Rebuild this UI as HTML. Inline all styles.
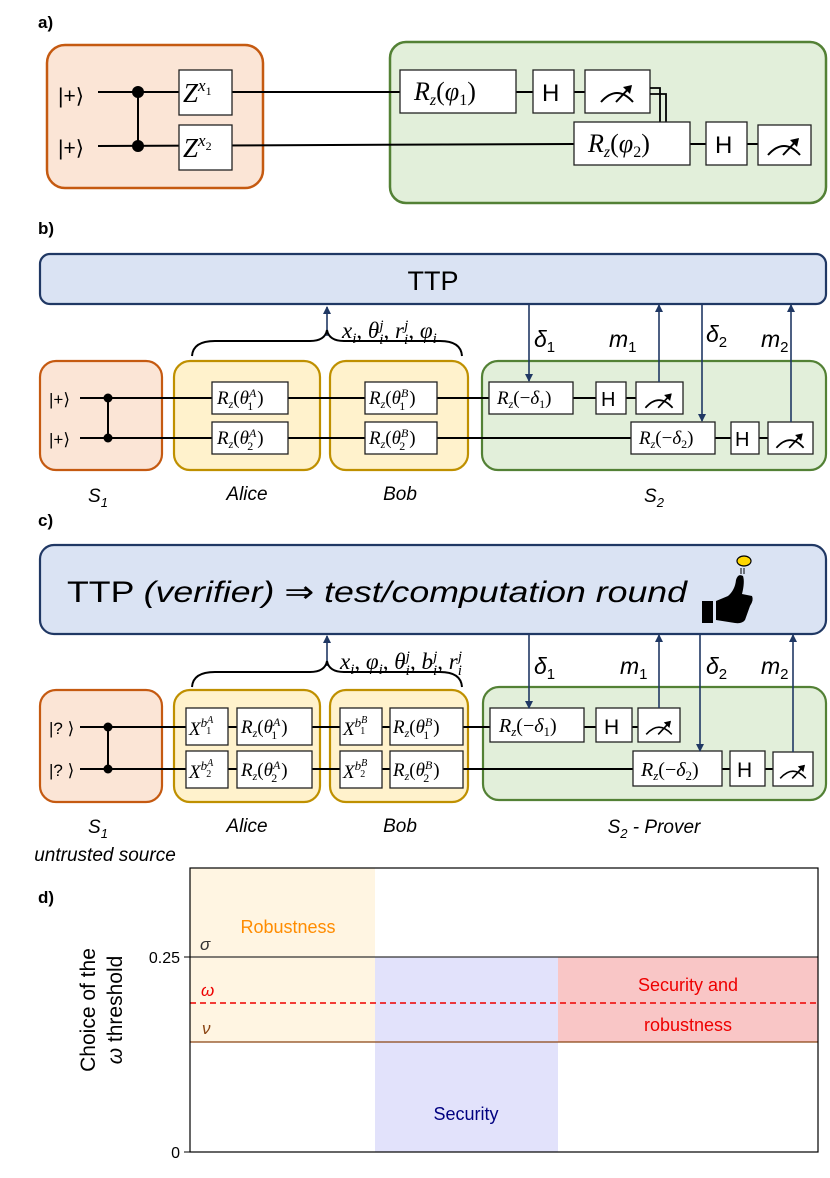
<!DOCTYPE html>
<html><head><meta charset="utf-8"><style>
html,body{margin:0;padding:0;background:#fff}
svg{display:block}
text{font-family:"Liberation Sans",sans-serif}
.m{font-family:"Liberation Serif",serif;font-style:italic}
.g{fill:#fff;stroke:#222;stroke-width:1.3}
.w{stroke:#000;stroke-width:2;fill:none}
.ar{stroke:#203864;stroke-width:1.6;fill:none}
</style></head><body>
<svg width="830" height="1178" viewBox="0 0 830 1178" xmlns="http://www.w3.org/2000/svg">
<defs>
<marker id="ah" markerUnits="userSpaceOnUse" markerWidth="9" markerHeight="9" refX="7" refY="4.5" orient="auto"><path d="M0,0.5 L8,4.5 L0,8.5 z" fill="#203864"/></marker>
<g id="meter"><path d="M-16,8 Q0,-10 16,8" fill="none" stroke="#000" stroke-width="2"/><path d="M-1,8 L14,-8" stroke="#000" stroke-width="2"/><path d="M15,-9 L6,-7 L13,0 z" fill="#000"/></g>
</defs>

<!-- ===== a ===== -->
<text x="38" y="28" font-size="17" font-weight="bold">a)</text>
<rect x="47" y="45" width="216" height="143" rx="18" fill="#fbe5d6" stroke="#c55a11" stroke-width="2.5"/>
<rect x="390" y="42" width="436" height="161" rx="16" fill="#e2efda" stroke="#538135" stroke-width="2.5"/>
<line class="w" x1="98" y1="92" x2="400" y2="92"/>
<line class="w" x1="98" y1="146" x2="574" y2="144"/>
<line class="w" x1="138" y1="92" x2="138" y2="146"/>
<circle cx="138" cy="92" r="6"/><circle cx="138" cy="146" r="6"/>
<text x="58" y="103" font-size="21">|+⟩</text>
<text x="58" y="155" font-size="21">|+⟩</text>
<rect class="g" x="179" y="70" width="53" height="45"/>
<text x="183" y="102" class="m" font-size="27">Z<tspan font-size="17" dy="-11">x</tspan><tspan font-size="12" dy="4" font-style="normal">1</tspan></text>
<rect class="g" x="179" y="125" width="53" height="45"/>
<text x="183" y="157" class="m" font-size="27">Z<tspan font-size="17" dy="-11">x</tspan><tspan font-size="12" dy="4" font-style="normal">2</tspan></text>
<line class="w" x1="516" y1="92" x2="533" y2="92"/><line class="w" x1="574" y1="92" x2="585" y2="92"/>
<rect class="g" x="400" y="70" width="116" height="43"/>
<text x="414" y="100" class="m" font-size="26">R<tspan font-size="16" dy="5">z</tspan><tspan dy="-5" font-style="normal">(</tspan>φ<tspan font-size="16" dy="5" font-style="normal">1</tspan><tspan dy="-5" font-style="normal">)</tspan></text>
<rect class="g" x="533" y="70" width="41" height="43"/><text x="542" y="101" font-size="24">H</text>
<rect class="g" x="585" y="70" width="65" height="43"/><use href="#meter" x="617" y="94"/>
<path d="M650,88 H660 V122 M650,94 H666 V122" fill="none" stroke="#000" stroke-width="1.8"/>
<line class="w" x1="690" y1="144" x2="706" y2="144"/><line class="w" x1="747" y1="144" x2="758" y2="144"/>
<rect class="g" x="574" y="122" width="116" height="43"/>
<text x="588" y="152" class="m" font-size="26">R<tspan font-size="16" dy="5">z</tspan><tspan dy="-5" font-style="normal">(</tspan>φ<tspan font-size="16" dy="5" font-style="normal">2</tspan><tspan dy="-5" font-style="normal">)</tspan></text>
<rect class="g" x="706" y="122" width="41" height="43"/><text x="715" y="153" font-size="24">H</text>
<rect class="g" x="758" y="125" width="53" height="40"/><use href="#meter" x="784" y="147"/>

<!-- ===== b ===== -->
<text x="38" y="234" font-size="17" font-weight="bold">b)</text>
<rect x="40" y="254" width="786" height="50" rx="10" fill="#dae3f3" stroke="#203864" stroke-width="2.2"/>
<text x="433" y="290" font-size="27" text-anchor="middle">TTP</text>
<line class="ar" x1="327" y1="336" x2="327" y2="307" marker-end="url(#ah)"/>
<text x="342" y="338" class="m" font-size="23">x<tspan font-size="15" dy="5">i</tspan><tspan dy="-5" font-style="normal">, </tspan>θ<tspan font-size="15" dy="6">i</tspan><tspan font-size="15" dx="-4" dy="-14">j</tspan><tspan dy="8" font-style="normal">, </tspan>r<tspan font-size="15" dy="6">i</tspan><tspan font-size="15" dx="-4" dy="-14">j</tspan><tspan dy="8" font-style="normal">, </tspan>φ<tspan font-size="15" dy="5">i</tspan></text>
<path d="M192,356 Q193,341 215,341 L310,341 Q325,341 327,330 Q329,341 344,341 L440,341 Q461,341 462,356" fill="none" stroke="#000" stroke-width="2"/>
<rect x="40" y="361" width="122" height="109" rx="16" fill="#fbe5d6" stroke="#c55a11" stroke-width="2.2"/>
<rect x="174" y="361" width="146" height="109" rx="16" fill="#fff2cc" stroke="#bf9000" stroke-width="2.2"/>
<rect x="330" y="361" width="138" height="109" rx="16" fill="#fff2cc" stroke="#bf9000" stroke-width="2.2"/>
<rect x="482" y="361" width="344" height="109" rx="16" fill="#e2efda" stroke="#538135" stroke-width="2.2"/>
<line class="w" x1="80" y1="398" x2="489" y2="398"/>
<line class="w" x1="80" y1="438" x2="631" y2="438"/>
<line class="w" x1="108" y1="398" x2="108" y2="438"/>
<circle cx="108" cy="398" r="4.5"/><circle cx="108" cy="438" r="4.5"/>
<text x="49" y="405" font-size="17">|+⟩</text><text x="49" y="445" font-size="17">|+⟩</text>
<g font-size="19">
<rect class="g" x="212" y="382" width="76" height="32"/><text x="217" y="404" class="m">R<tspan font-size="12" dy="4">z</tspan><tspan dy="-4" font-style="normal">(</tspan>θ<tspan font-size="12" dy="-7">A</tspan><tspan font-size="12" dx="-9" dy="13" font-style="normal">1</tspan><tspan dx="4" dy="-6" font-style="normal">)</tspan></text>
<rect class="g" x="212" y="422" width="76" height="32"/><text x="217" y="444" class="m">R<tspan font-size="12" dy="4">z</tspan><tspan dy="-4" font-style="normal">(</tspan>θ<tspan font-size="12" dy="-7">A</tspan><tspan font-size="12" dx="-9" dy="13" font-style="normal">2</tspan><tspan dx="4" dy="-6" font-style="normal">)</tspan></text>
<rect class="g" x="365" y="382" width="72" height="32"/><text x="369" y="404" class="m">R<tspan font-size="12" dy="4">z</tspan><tspan dy="-4" font-style="normal">(</tspan>θ<tspan font-size="12" dy="-7">B</tspan><tspan font-size="12" dx="-9" dy="13" font-style="normal">1</tspan><tspan dx="4" dy="-6" font-style="normal">)</tspan></text>
<rect class="g" x="365" y="422" width="72" height="32"/><text x="369" y="444" class="m">R<tspan font-size="12" dy="4">z</tspan><tspan dy="-4" font-style="normal">(</tspan>θ<tspan font-size="12" dy="-7">B</tspan><tspan font-size="12" dx="-9" dy="13" font-style="normal">2</tspan><tspan dx="4" dy="-6" font-style="normal">)</tspan></text>
</g>
<line class="w" x1="573" y1="398" x2="636" y2="398"/>
<line class="w" x1="715" y1="438" x2="768" y2="438"/>
<rect class="g" x="489" y="382" width="84" height="32"/><text x="497" y="404" class="m" font-size="19">R<tspan font-size="12" dy="4">z</tspan><tspan dy="-4" font-style="normal">(−</tspan>δ<tspan font-size="12" dy="4" font-style="normal">1</tspan><tspan dy="-4" font-style="normal">)</tspan></text>
<rect class="g" x="596" y="382" width="30" height="32"/><text x="601" y="406" font-size="20">H</text>
<rect class="g" x="636" y="382" width="47" height="32"/><use href="#meter" transform="translate(659 401) scale(.85)"/>
<rect class="g" x="631" y="422" width="84" height="32"/><text x="639" y="444" class="m" font-size="19">R<tspan font-size="12" dy="4">z</tspan><tspan dy="-4" font-style="normal">(−</tspan>δ<tspan font-size="12" dy="4" font-style="normal">2</tspan><tspan dy="-4" font-style="normal">)</tspan></text>
<rect class="g" x="731" y="422" width="28" height="32"/><text x="735" y="446" font-size="20">H</text>
<rect class="g" x="768" y="422" width="45" height="32"/><use href="#meter" transform="translate(790 441) scale(.85)"/>
<line class="ar" x1="529" y1="305" x2="529" y2="381" marker-end="url(#ah)"/>
<line class="ar" x1="659" y1="382" x2="659" y2="305" marker-end="url(#ah)"/>
<line class="ar" x1="702" y1="305" x2="702" y2="421" marker-end="url(#ah)"/>
<line class="ar" x1="791" y1="422" x2="791" y2="305" marker-end="url(#ah)"/>
<g class="m" font-size="23">
<text x="534" y="347">δ<tspan font-size="15" dy="5" font-style="normal">1</tspan></text>
<text x="609" y="347">m<tspan font-size="15" dy="5" font-style="normal">1</tspan></text>
<text x="706" y="342">δ<tspan font-size="15" dy="5" font-style="normal">2</tspan></text>
<text x="761" y="347">m<tspan font-size="15" dy="5" font-style="normal">2</tspan></text>
</g>
<g font-size="19" font-style="italic" text-anchor="middle">
<text x="98" y="502">S<tspan font-size="13" dy="5">1</tspan></text>
<text x="247" y="500">Alice</text>
<text x="400" y="500">Bob</text>
<text x="654" y="502">S<tspan font-size="13" dy="5">2</tspan></text>
</g>

<!-- ===== c ===== -->
<text x="38" y="526" font-size="17" font-weight="bold">c)</text>
<rect x="40" y="545" width="786" height="89" rx="14" fill="#dae3f3" stroke="#203864" stroke-width="2.2"/>
<text x="67" y="602" font-size="30" textLength="620" lengthAdjust="spacingAndGlyphs">TTP <tspan font-style="italic">(verifier)</tspan> ⇒ <tspan font-style="italic">test/computation round</tspan></text>
<ellipse cx="744" cy="561" rx="7" ry="5" fill="#ffd700" stroke="#000" stroke-width="1.2"/>
<path d="M741,568 v6 M744,568 v6" stroke="#000" stroke-width="1"/>
<rect x="702" y="601" width="11" height="22" fill="#000"/>
<path d="M716,601 L728,596 Q735,590 736,580 Q738,573 743,576 Q745,582 742,594 L752,596 Q754,600 750,606 L745,620 Q742,624 735,623 L716,620 z" fill="#000"/>
<line class="ar" x1="327" y1="666" x2="327" y2="636" marker-end="url(#ah)"/>
<text x="340" y="669" class="m" font-size="23">x<tspan font-size="15" dy="5">i</tspan><tspan dy="-5" font-style="normal">, </tspan>φ<tspan font-size="15" dy="5">i</tspan><tspan dy="-5" font-style="normal">, </tspan>θ<tspan font-size="15" dy="6">i</tspan><tspan font-size="15" dx="-4" dy="-14">j</tspan><tspan dy="8" font-style="normal">, </tspan>b<tspan font-size="15" dy="6">i</tspan><tspan font-size="15" dx="-4" dy="-14">j</tspan><tspan dy="8" font-style="normal">, </tspan>r<tspan font-size="15" dy="6">i</tspan><tspan font-size="15" dx="-4" dy="-14">j</tspan></text>
<path d="M192,687 Q193,672 215,672 L310,672 Q325,672 327,661 Q329,672 344,672 L440,672 Q461,672 462,687" fill="none" stroke="#000" stroke-width="2"/>
<rect x="40" y="690" width="122" height="112" rx="16" fill="#fbe5d6" stroke="#c55a11" stroke-width="2.2"/>
<rect x="174" y="690" width="146" height="112" rx="16" fill="#fff2cc" stroke="#bf9000" stroke-width="2.2"/>
<rect x="330" y="690" width="138" height="112" rx="16" fill="#fff2cc" stroke="#bf9000" stroke-width="2.2"/>
<rect x="483" y="687" width="343" height="113" rx="16" fill="#e2efda" stroke="#538135" stroke-width="2.2"/>
<line class="w" x1="80" y1="727" x2="490" y2="727"/>
<line class="w" x1="80" y1="769" x2="633" y2="769"/>
<line class="w" x1="108" y1="727" x2="108" y2="769"/>
<circle cx="108" cy="727" r="4.5"/><circle cx="108" cy="769" r="4.5"/>
<text x="49" y="734" font-size="17">|? ⟩</text><text x="49" y="776" font-size="17">|? ⟩</text>
<g font-size="19">
<rect class="g" x="186" y="708" width="42" height="37"/><text x="189" y="735" class="m">X<tspan font-size="13" dy="-8">b</tspan><tspan font-size="10" dy="-4">A</tspan><tspan font-size="10" dx="-7" dy="11" font-style="normal">1</tspan></text>
<rect class="g" x="186" y="751" width="42" height="37"/><text x="189" y="778" class="m">X<tspan font-size="13" dy="-8">b</tspan><tspan font-size="10" dy="-4">A</tspan><tspan font-size="10" dx="-7" dy="11" font-style="normal">2</tspan></text>
<rect class="g" x="237" y="708" width="75" height="37"/><text x="241" y="733" class="m">R<tspan font-size="12" dy="4">z</tspan><tspan dy="-4" font-style="normal">(</tspan>θ<tspan font-size="12" dy="-7">A</tspan><tspan font-size="12" dx="-9" dy="13" font-style="normal">1</tspan><tspan dx="4" dy="-6" font-style="normal">)</tspan></text>
<rect class="g" x="237" y="751" width="75" height="37"/><text x="241" y="776" class="m">R<tspan font-size="12" dy="4">z</tspan><tspan dy="-4" font-style="normal">(</tspan>θ<tspan font-size="12" dy="-7">A</tspan><tspan font-size="12" dx="-9" dy="13" font-style="normal">2</tspan><tspan dx="4" dy="-6" font-style="normal">)</tspan></text>
<rect class="g" x="340" y="708" width="42" height="37"/><text x="343" y="735" class="m">X<tspan font-size="13" dy="-8">b</tspan><tspan font-size="10" dy="-4">B</tspan><tspan font-size="10" dx="-7" dy="11" font-style="normal">1</tspan></text>
<rect class="g" x="340" y="751" width="42" height="37"/><text x="343" y="778" class="m">X<tspan font-size="13" dy="-8">b</tspan><tspan font-size="10" dy="-4">B</tspan><tspan font-size="10" dx="-7" dy="11" font-style="normal">2</tspan></text>
<rect class="g" x="390" y="708" width="73" height="37"/><text x="393" y="733" class="m">R<tspan font-size="12" dy="4">z</tspan><tspan dy="-4" font-style="normal">(</tspan>θ<tspan font-size="12" dy="-7">B</tspan><tspan font-size="12" dx="-9" dy="13" font-style="normal">1</tspan><tspan dx="4" dy="-6" font-style="normal">)</tspan></text>
<rect class="g" x="390" y="751" width="73" height="37"/><text x="393" y="776" class="m">R<tspan font-size="12" dy="4">z</tspan><tspan dy="-4" font-style="normal">(</tspan>θ<tspan font-size="12" dy="-7">B</tspan><tspan font-size="12" dx="-9" dy="13" font-style="normal">2</tspan><tspan dx="4" dy="-6" font-style="normal">)</tspan></text>
</g>
<line class="w" x1="584" y1="727" x2="638" y2="727"/>
<line class="w" x1="722" y1="769" x2="773" y2="769"/>
<rect class="g" x="490" y="708" width="94" height="34"/><text x="499" y="732" class="m" font-size="20">R<tspan font-size="13" dy="4">z</tspan><tspan dy="-4" font-style="normal">(−</tspan>δ<tspan font-size="13" dy="4" font-style="normal">1</tspan><tspan dy="-4" font-style="normal">)</tspan></text>
<rect class="g" x="596" y="708" width="36" height="34"/><text x="604" y="734" font-size="21">H</text>
<rect class="g" x="638" y="708" width="42" height="34"/><use href="#meter" transform="translate(659 728) scale(.8)"/>
<rect class="g" x="633" y="751" width="89" height="35"/><text x="641" y="776" class="m" font-size="20">R<tspan font-size="13" dy="4">z</tspan><tspan dy="-4" font-style="normal">(−</tspan>δ<tspan font-size="13" dy="4" font-style="normal">2</tspan><tspan dy="-4" font-style="normal">)</tspan></text>
<rect class="g" x="730" y="751" width="35" height="35"/><text x="737" y="777" font-size="21">H</text>
<rect class="g" x="773" y="752" width="40" height="34"/><use href="#meter" transform="translate(793 772) scale(.8)"/>
<line class="ar" x1="529" y1="635" x2="529" y2="708" marker-end="url(#ah)"/>
<line class="ar" x1="659" y1="708" x2="659" y2="635" marker-end="url(#ah)"/>
<line class="ar" x1="700" y1="635" x2="700" y2="751" marker-end="url(#ah)"/>
<line class="ar" x1="793" y1="752" x2="793" y2="635" marker-end="url(#ah)"/>
<g class="m" font-size="23">
<text x="534" y="674">δ<tspan font-size="15" dy="5" font-style="normal">1</tspan></text>
<text x="620" y="674">m<tspan font-size="15" dy="5" font-style="normal">1</tspan></text>
<text x="706" y="674">δ<tspan font-size="15" dy="5" font-style="normal">2</tspan></text>
<text x="761" y="674">m<tspan font-size="15" dy="5" font-style="normal">2</tspan></text>
</g>
<g font-size="19" font-style="italic" text-anchor="middle">
<text x="98" y="833">S<tspan font-size="13" dy="5">1</tspan></text>
<text x="105" y="861">untrusted source</text>
<text x="247" y="832">Alice</text>
<text x="400" y="832">Bob</text>
<text x="654" y="833">S<tspan font-size="13" dy="5">2</tspan><tspan dy="-5"> - Prover</tspan></text>
</g>

<!-- ===== d ===== -->
<text x="38" y="903" font-size="17" font-weight="bold">d)</text>
<rect x="190" y="868" width="185" height="174" fill="#fff5e2"/>
<rect x="375" y="957" width="183" height="195" fill="#e2e2fb"/>
<rect x="558" y="957" width="260" height="85" fill="#f9c6c6"/>
<line x1="190" y1="957" x2="818" y2="957" stroke="#333" stroke-width="1.3"/>
<line x1="190" y1="1003" x2="818" y2="1003" stroke="#e00" stroke-width="1.6" stroke-dasharray="6,4"/>
<line x1="190" y1="1042" x2="818" y2="1042" stroke="#8b4513" stroke-width="1.3"/>
<rect x="190" y="868" width="628" height="284" fill="none" stroke="#000" stroke-width="1.2"/>
<line x1="184" y1="957" x2="190" y2="957" stroke="#000"/><line x1="184" y1="1152" x2="190" y2="1152" stroke="#000"/>
<text x="180" y="963" font-size="16" text-anchor="end">0.25</text>
<text x="180" y="1158" font-size="16" text-anchor="end">0</text>
<text x="200" y="950" font-size="17" font-style="italic" style="fill:#333">σ</text>
<text x="201" y="996" font-size="17" font-style="italic" style="fill:#e00">ω</text>
<text x="202" y="1034" font-size="17" font-style="italic" style="fill:#8b4513">ν</text>
<text x="288" y="933" font-size="18" style="fill:#ff8c00" text-anchor="middle">Robustness</text>
<text x="688" y="991" font-size="18" style="fill:#e00" text-anchor="middle">Security and</text>
<text x="688" y="1031" font-size="18" style="fill:#e00" text-anchor="middle">robustness</text>
<text x="466" y="1120" font-size="18" style="fill:#000080" text-anchor="middle">Security</text>
<text transform="translate(95 1010) rotate(-90)" font-size="21" text-anchor="middle">Choice of the</text>
<text transform="translate(122 1010) rotate(-90)" font-size="21" text-anchor="middle"><tspan font-style="italic">ω</tspan> threshold</text>
</svg>
</body></html>
